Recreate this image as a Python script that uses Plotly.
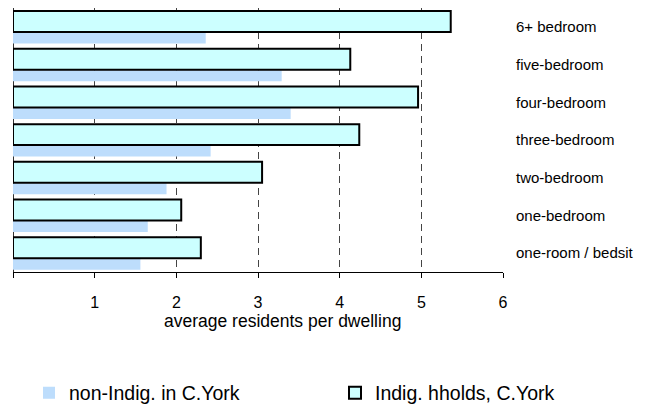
import plotly.graph_objects as go

categories = ["one-room / bedsit", "one-bedroom", "two-bedroom", "three-bedroom",
              "four-bedroom", "five-bedroom", "6+ bedroom"]
non_indig = [1.56, 1.65, 1.88, 2.42, 3.40, 3.29, 2.36]
indig = [2.30, 2.06, 3.05, 4.24, 4.96, 4.13, 5.36]
x_ticks = [0, 1, 2, 3, 4, 5, 6]
x_ticktext = ["", "1", "2", "3", "4", "5", "6"]

REG = "Liberation Sans, Arial, sans-serif"

fig = go.Figure()
fig.add_trace(go.Bar(
    y=categories, x=non_indig, orientation="h", name="non-Indig. in C.York",
    marker=dict(color="#BDDDFC", line=dict(width=0)),
    offset=-0.44, width=0.29, hoverinfo="skip", legend="legend",
))
fig.add_trace(go.Bar(
    y=categories, x=indig, orientation="h", name="Indig. hholds, C.York",
    marker=dict(color="#CCFFFF", line=dict(color="black", width=2)),
    offset=-0.135, width=0.555, hoverinfo="skip", legend="legend2",
))

leg_common = dict(orientation="h", xref="container", yref="container",
                  xanchor="left", yanchor="middle",
                  font=dict(family=REG, size=19.5, color="black"),
                  bgcolor="rgba(0,0,0,0)", borderwidth=0)

fig.update_layout(
    width=649, height=405,
    margin=dict(l=13, r=146, t=7.5, b=132.5, pad=0, autoexpand=False),
    paper_bgcolor="white", plot_bgcolor="white",
    barmode="overlay",
    showlegend=True,
    hovermode=False,
    legend=dict(x=29/649, y=1-393/405, **leg_common),
    legend2=dict(x=335/649, y=1-393/405, **leg_common),
    xaxis=dict(range=[0, 6], tickvals=x_ticks, ticktext=x_ticktext,
               showgrid=True, gridcolor="#444", gridwidth=1, griddash="7px,5px",
               zeroline=True, zerolinecolor="#333", zerolinewidth=1,
               showline=True, linecolor="black", linewidth=1,
               ticks="outside", ticklen=5, tickcolor="black", tickwidth=1,
               ticklabelstandoff=11, automargin=False,
               tickfont=dict(family=REG, size=16, color="black"),
               fixedrange=True),
    yaxis=dict(type="category", categoryorder="array", categoryarray=categories,
               range=[-0.5, 6.5], side="right", showgrid=False, zeroline=False,
               showline=False, ticks="", ticklabelstandoff=12, automargin=False,
               tickfont=dict(family=REG, size=15, color="black"),
               fixedrange=True),
    annotations=[dict(text="average residents per dwelling", xref="paper", yref="paper",
                      x=(282.5-13)/490, y=(272.5-322)/265, xanchor="center", yanchor="middle",
                      showarrow=False, font=dict(family=REG, size=17.5, color="black"))],
)

fig.write_html("out.html", config={"displayModeBar": False, "staticPlot": True},
               post_script="document.body.style.margin='0';")
